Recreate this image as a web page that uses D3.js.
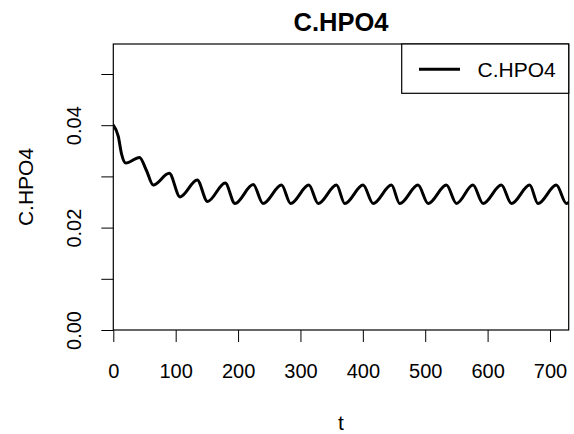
<!DOCTYPE html>
<html>
<head>
<meta charset="utf-8">
<script src="https://cdn.jsdelivr.net/npm/d3@7"></script>
<style>
  html, body { margin: 0; padding: 0; background: #fff; }
  svg { display: block; font-family: "Liberation Sans", Arial, Helvetica, sans-serif; }
</style>
</head>
<body>
<svg id="chart" width="574" height="434"></svg>
<script>
// ---- data ----
const chartTitle = "C.HPO4";
const xLabel = "t";
const yLabel = "C.HPO4";
const seriesName = "C.HPO4";
const tValues = [0, 8, 13, 20, 42, 53, 64, 89.7, 107, 134.5, 151, 179.4, 195, 224.3, 240,
  269.7, 284.2, 313.5, 328.4, 357.8, 371.1, 400.4, 416.5, 445.9, 459.2, 488.5, 504.6,
  534.0, 550.1, 576.6, 592.7, 622.1, 638.2, 667.5, 680.8, 710.2, 726.3, 730];
const cValues = [0.0400, 0.0378, 0.0345, 0.0326, 0.0337, 0.0312, 0.0283, 0.0306, 0.0260, 0.0293, 0.0251, 0.0287, 0.0247, 0.0284, 0.0247,
  0.0283, 0.0247, 0.0283, 0.0247, 0.0283, 0.0247, 0.0283, 0.0247, 0.0283, 0.0247, 0.0283, 0.0247,
  0.0283, 0.0247, 0.0283, 0.0247, 0.0283, 0.0247, 0.0283, 0.0247, 0.0283, 0.0247, 0.0249];
const xTicks = [0, 100, 200, 300, 400, 500, 600, 700];
const yTicks = [0, 0.01, 0.02, 0.03, 0.04, 0.05];
const yTickLabels = ["0.00", "", "0.02", "", "0.04", ""];
const xDomain = [0, 730];
const yDomain = [0, 0.05586];

// ---- layout ----
const svg = d3.select("#chart");
const plot = { left: 113.3, right: 568.7, top: 44, bottom: 330 };

const x = d3.scaleLinear().domain(xDomain).range([plot.left, plot.right]);
const y = d3.scaleLinear().domain(yDomain).range([plot.bottom, plot.top]);

const data = tValues.map((t, i) => ({ t, v: cValues[i] }));

// clip
svg.append("defs").append("clipPath").attr("id", "clip")
  .append("rect").attr("x", plot.left).attr("y", plot.top)
  .attr("width", plot.right - plot.left).attr("height", plot.bottom - plot.top);

// line
const line = d3.line().x(d => x(d.t)).y(d => y(d.v)).curve(d3.curveMonotoneX);
svg.append("path").datum(data)
  .attr("clip-path", "url(#clip)")
  .attr("d", line)
  .attr("fill", "none").attr("stroke", "#000").attr("stroke-width", 3)
  .attr("stroke-linejoin", "round").attr("stroke-linecap", "round");

// x axis
const xAxis = d3.axisBottom(x).tickValues(xTicks).tickSize(12).tickSizeOuter(0).tickPadding(8)
  .tickFormat(d3.format("d"));
const gx = svg.append("g").attr("transform", `translate(0,${plot.bottom})`).call(xAxis);
gx.select(".domain").remove();
gx.selectAll("line").attr("stroke", "#000").attr("stroke-width", 1);
gx.selectAll("text").attr("font-size", 20).attr("fill", "#000")
  .attr("font-family", "Liberation Sans, Arial, sans-serif")
  .attr("dy", null).attr("y", 48);

// y axis
const yAxis = d3.axisLeft(y).tickValues(yTicks).tickSize(12).tickSizeOuter(0)
  .tickFormat((d, i) => yTickLabels[i]);
const gy = svg.append("g").attr("transform", `translate(${plot.left},0)`).call(yAxis);
gy.select(".domain").remove();
gy.selectAll("line").attr("stroke", "#000").attr("stroke-width", 1);
gy.selectAll("text")
  .attr("font-size", 20).attr("fill", "#000")
  .attr("font-family", "Liberation Sans, Arial, sans-serif")
  .attr("x", null).attr("dy", null)
  .attr("text-anchor", "middle")
  .attr("transform", "translate(-32,0) rotate(-90)")
  .attr("y", 0);

// frame
svg.append("rect")
  .attr("x", plot.left).attr("y", plot.top)
  .attr("width", plot.right - plot.left).attr("height", plot.bottom - plot.top)
  .attr("fill", "none").attr("stroke", "#000").attr("stroke-width", 1.2);

// title
svg.append("text").attr("x", (plot.left + plot.right) / 2).attr("y", 31)
  .attr("text-anchor", "middle").attr("font-size", 25.5).attr("font-weight", "bold")
  .text(chartTitle);

// axis labels
svg.append("text").attr("x", (plot.left + plot.right) / 2).attr("y", 430)
  .attr("text-anchor", "middle").attr("font-size", 21).text(xLabel);
svg.append("text")
  .attr("transform", `translate(33,${(plot.top + plot.bottom) / 2}) rotate(-90)`)
  .attr("text-anchor", "middle").attr("font-size", 21).text(yLabel);

// legend
const lg = svg.append("g");
lg.append("rect").attr("x", 401.7).attr("y", plot.top)
  .attr("width", plot.right - 401.7).attr("height", 93.3 - plot.top)
  .attr("fill", "#fff").attr("stroke", "#000").attr("stroke-width", 1.2);
lg.append("line").attr("x1", 419).attr("x2", 460).attr("y1", 69.3).attr("y2", 69.3)
  .attr("stroke", "#000").attr("stroke-width", 3);
lg.append("text").attr("x", 477.5).attr("y", 77).attr("font-size", 21).text(seriesName);
</script>
</body>
</html>
